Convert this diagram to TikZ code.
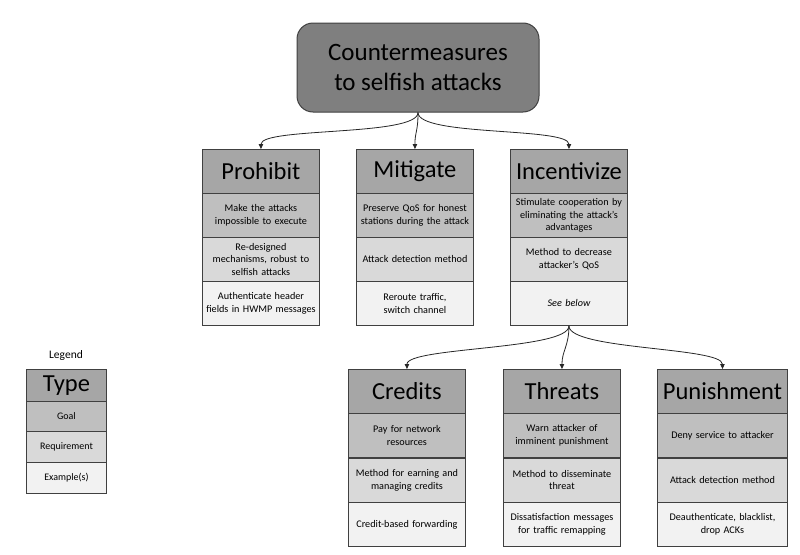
\documentclass[tikz,border=0pt]{standalone}
\usepackage{fontspec}
\setmainfont{Carlito}
\usetikzlibrary{arrows.meta}
\definecolor{rootc}{HTML}{7F7F7F}
\definecolor{hdrc}{HTML}{A6A6A6}
\definecolor{goalc}{HTML}{BFBFBF}
\definecolor{reqc}{HTML}{D9D9D9}
\definecolor{exc}{HTML}{F2F2F2}
\definecolor{bordc}{HTML}{404040}
\tikzset{
  cell/.style={draw=bordc, line width=0.9pt, minimum width=117pt, minimum height=44pt,
    inner sep=0pt, anchor=north west, align=center, text width=114pt},
  hdr/.style={cell, fill=hdrc, font=\fontsize{24.5}{28}\selectfont},
  goal/.style={cell, fill=goalc, font=\fontsize{10.2}{12.8}\selectfont},
  req/.style={cell, fill=reqc, font=\fontsize{10.2}{12.8}\selectfont},
  exm/.style={cell, fill=exc, font=\fontsize{10.2}{12.8}\selectfont},
  wide/.style={minimum width=130pt, text width=127pt},
  leg/.style={minimum width=80pt, text width=78pt, font=\fontsize{10}{12}\selectfont},
  conn/.style={line width=0.8pt, black!85, -{Triangle[length=5pt,width=4.5pt]}},
}
\begin{document}
\begin{tikzpicture}[x=1pt,y=1pt]
\useasboundingbox (0,0) rectangle (800,-554);
% root
\node[draw=bordc, line width=1pt, fill=rootc, rounded corners=16pt, minimum width=242pt,
  minimum height=89pt, align=center, font=\fontsize{25}{30}\selectfont]
  (root) at (418,-67.5) {Countermeasures\\to selfish attacks};
% Prohibit
\node[hdr] (p0) at (202,-149) {Prohibit};
\node[goal] (p1) at (202,-193) {Make the attacks\\impossible to execute};
\node[req] (p2) at (202,-237) {Re-designed\\mechanisms, robust to\\selfish attacks};
\node[exm] (p3) at (202,-281) {Authenticate header\\fields in HWMP messages};
% Mitigate
\node[hdr] (m0) at (356,-149) {Mitigate};
\node[goal] (m1) at (356,-193) {Preserve QoS for honest\\stations during the attack};
\node[req] (m2) at (356,-237) {Attack detection method};
\node[exm] (m3) at (356,-281) {Reroute traffic,\\switch channel};
% Incentivize
\node[hdr] (i0) at (510,-149) {Incentivize};
\node[goal] (i1) at (510,-193) {Stimulate cooperation by\\eliminating the attack’s\\advantages};
\node[req] (i2) at (510,-237) {Method to decrease\\attacker’s QoS};
\node[exm] (i3) at (510,-281) {\itshape See below};
% Credits
\node[hdr] (c0) at (348,-369) {Credits};
\node[goal] (c1) at (348,-413) {Pay for network\\resources};
\node[req] (c2) at (348,-457.5) {Method for earning and\\managing credits};
\node[exm] (c3) at (348,-502) {Credit-based forwarding};
% Threats
\node[hdr] (t0) at (503,-369) {Threats};
\node[goal] (t1) at (503,-413) {Warn attacker of\\imminent punishment};
\node[req] (t2) at (503,-457.5) {Method to disseminate\\threat};
\node[exm] (t3) at (503,-502) {Dissatisfaction messages\\for traffic remapping};
% Punishment
\node[hdr, wide] (u0) at (657,-369) {Punishment};
\node[goal, wide] (u1) at (657,-413) {Deny service to attacker};
\node[req, wide] (u2) at (657,-457.5) {Attack detection method};
\node[exm, wide] (u3) at (657,-502) {Deauthenticate, blacklist,\\drop ACKs};
% Legend
\node[font=\fontsize{11.5}{13}\selectfont] (legt) at (66,-355) {Legend};
\node[hdr, minimum width=80pt, text width=78pt, minimum height=32pt] (l0) at (26,-369) {Type};
\node[goal, leg, minimum height=30pt] (l1) at (26,-401) {Goal};
\node[req, leg, minimum height=31pt] (l2) at (26,-431) {Requirement};
\node[exm, leg, minimum height=31pt] (l3) at (26,-462) {Example(s)};
% connectors
\draw[conn] (root.south) .. controls +(0,-24) and +(0,22) .. (p0.north);
\draw[conn] (root.south) .. controls +(0,-20) and +(0,18) .. (m0.north);
\draw[conn] (root.south) .. controls +(0,-24) and +(0,22) .. (i0.north);
\draw[conn] (i3.south) .. controls +(0,-24) and +(0,22) .. (c0.north);
\draw[conn] (i3.south) .. controls +(0,-20) and +(0,18) .. (t0.north);
\draw[conn] (i3.south) .. controls +(0,-24) and +(0,22) .. (u0.north);
\end{tikzpicture}
\end{document}
